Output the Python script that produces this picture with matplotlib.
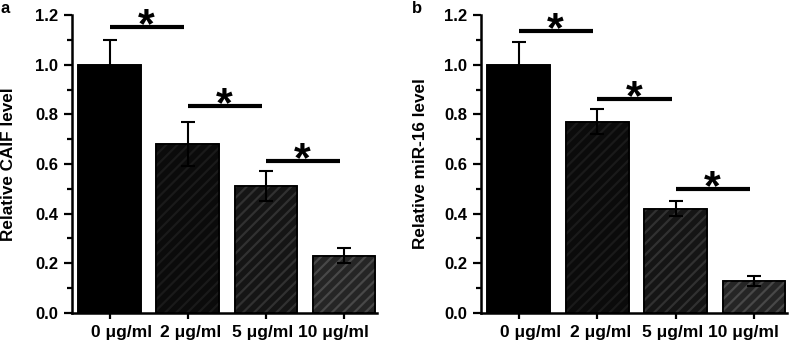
import matplotlib
matplotlib.use("Agg")
import matplotlib.pyplot as plt
from matplotlib.ticker import MultipleLocator
from matplotlib.transforms import offset_copy

plt.rcParams.update({"font.family": ["Liberation Sans", "DejaVu Sans"], "font.weight": "bold",
                     "hatch.linewidth": 1.6})

groups = ["0 μg/ml", "2 μg/ml", "5 μg/ml", "10 μg/ml"]
caif_mean = [1.00, 0.68, 0.51, 0.23]
caif_err = [0.10, 0.09, 0.06, 0.03]
mir_mean = [1.00, 0.77, 0.42, 0.13]
mir_err = [0.09, 0.05, 0.03, 0.02]
caif_sig = [1.153, 0.835, 0.613]
mir_sig = [1.137, 0.863, 0.50]

faces = ["#000000", "#0b0b0b", "#151515", "#252525"]
hatches = ["#000000", "#1a1a1a", "#313131", "#484848"]
label_shift = [12, 3, -3, -11]  # px, labels in the original sit a bit squeezed


def panel(fig, ax, mean, err, sig, ylabel):
    x = range(len(groups))
    ax.bar(x, mean, width=0.8, color=faces, edgecolor="black", linewidth=1.2, zorder=2)
    for i in x:
        ax.bar(i, mean[i], width=0.8, color="none", edgecolor=hatches[i], hatch="///",
               linewidth=0, zorder=3)
    ax.bar(x, mean, width=0.8, color="none", edgecolor="black", linewidth=1.2, zorder=4)
    ax.errorbar(x, mean, yerr=err, fmt="none", ecolor="black", elinewidth=1.5,
                capsize=4.7, capthick=1.5, zorder=5)
    for i, h in enumerate(sig):
        ax.plot([i, i + 0.95], [h, h], color="black", lw=3, solid_capstyle="butt",
                zorder=6, clip_on=False)
        ax.text(i + 0.47, h - 0.042, "*", ha="center", va="baseline", fontsize=31,
                fontweight="bold", zorder=6, clip_on=False)
    ax.set_xlim(-0.48, 3.42)
    ax.set_ylim(0, 1.2)
    ax.set_xticks(list(x))
    ax.set_xticklabels([])
    for i, (g, dx) in enumerate(zip(groups, label_shift)):
        tr = offset_copy(ax.get_xaxis_transform(), fig=fig, x=dx, y=-12, units="dots")
        ax.text(i, 0, g, transform=tr, ha="center", va="top", fontsize=12.5,
                fontweight="bold", clip_on=False)
    ax.yaxis.set_minor_locator(MultipleLocator(0.1))
    ax.set_yticks([0, 0.2, 0.4, 0.6, 0.8, 1.0, 1.2])
    ax.set_yticklabels([f"{v:.1f}" for v in ax.get_yticks()], fontsize=12, fontweight="bold")
    ax.tick_params(axis="y", which="major", direction="out", length=6, width=1.6, pad=4)
    ax.tick_params(axis="y", which="minor", direction="out", length=3.5, width=1.6)
    ax.tick_params(axis="x", direction="out", length=4.5, width=1.6)
    for s in ["top", "right"]:
        ax.spines[s].set_visible(False)
    for s in ["left", "bottom"]:
        ax.spines[s].set_linewidth(1.8)
    ax.set_ylabel(ylabel, fontsize=12.3, fontweight="bold")


fig = plt.figure(figsize=(7.96, 3.46), dpi=100)
ax1 = fig.add_axes([0.0905, 0.0954, 0.3831, 0.8612])
ax2 = fig.add_axes([0.6043, 0.0954, 0.3844, 0.8612])
panel(fig, ax1, caif_mean, caif_err, caif_sig, "Relative CAIF level")
panel(fig, ax2, mir_mean, mir_err, mir_sig, "Relative miR-16 level")
ax1.yaxis.set_label_coords(-0.183, 0.5)
ax2.yaxis.set_label_coords(-0.172, 0.5)
fig.text(0.001, 0.998, "a", fontsize=12, fontweight="bold", va="top", ha="left")
fig.text(0.518, 0.998, "b", fontsize=12, fontweight="bold", va="top", ha="left")

fig.savefig("out.png", dpi=100, facecolor="white")
